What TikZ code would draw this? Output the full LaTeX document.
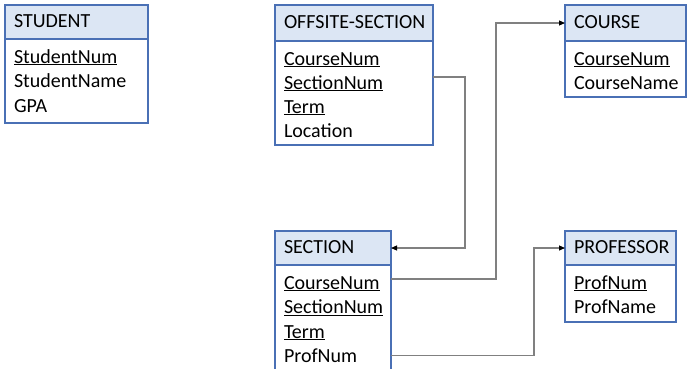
\documentclass[tikz,border=0pt]{standalone}
\usepackage{fontspec}
\setmainfont{Carlito}
\usetikzlibrary{arrows.meta,positioning}

\definecolor{boxblue}{HTML}{4A70B5}
\definecolor{hdrfill}{HTML}{DCE6F4}
\definecolor{linkgray}{HTML}{808080}

\begin{document}
\begin{tikzpicture}[
  x=1pt, y=1pt,
  every node/.style={font=\fontsize{20}{24}\selectfont, outer sep=0pt,
    text height=14pt, text depth=4pt},
  hdr/.style={draw=boxblue, fill=hdrfill, line width=1.2pt, anchor=north west,
    inner xsep=9pt, inner ysep=0pt, align=left, text width=#1-18pt},
  tbl/.style={draw=boxblue, line width=1.2pt, minimum width=#1, inner sep=0pt},
  attr/.style={anchor=west, inner xsep=9pt, inner ysep=0pt},
  link/.style={draw=linkgray, line width=1.1pt,
    -{Triangle[length=6pt,width=5pt,color=black]}},
]

\def\RH{24.5pt}  % row spacing inside a table
\def\RT{19pt}    % first row below the header

\useasboundingbox (0,0) rectangle (687,-368);

% STUDENT
\node[hdr=143pt, minimum height=34pt] (stu) at (5,-5) {STUDENT};
\node[tbl=143pt, minimum height=84pt, below=0pt of stu] (stu-b) {};
\foreach \t [count=\i] in {\underline{StudentNum}, StudentName, GPA}
  \node[attr] (stu-\i) at ([yshift=-\RT-(\i-1)*\RH]stu-b.north west) {\t};

% OFFSITE-SECTION
\node[hdr=158pt, minimum height=36pt] (off) at (275,-5) {\mbox{OFFSITE-SECTION}};
\node[tbl=158pt, minimum height=104pt, below=0pt of off] (off-b) {};
\foreach \t [count=\i] in {\underline{CourseNum}, \underline{SectionNum},
    \underline{Term}, Location}
  \node[attr] (off-\i) at ([yshift=-\RT-(\i-1)*24pt]off-b.north west) {\t};

% COURSE
\node[hdr=121pt, minimum height=36pt] (crs) at (565,-5) {COURSE};
\node[tbl=121pt, minimum height=56pt, below=0pt of crs] (crs-b) {};
\foreach \t [count=\i] in {\underline{CourseNum}, CourseName}
  \node[attr] (crs-\i) at ([yshift=-\RT-(\i-1)*\RH]crs-b.north west) {\t};

% SECTION
\node[hdr=116pt, minimum height=34pt] (sec) at (275,-231) {SECTION};
\node[tbl=116pt, minimum height=112pt, below=0pt of sec] (sec-b) {};
\foreach \t [count=\i] in {\underline{CourseNum}, \underline{SectionNum},
    \underline{Term}, ProfNum}
  \node[attr] (sec-\i) at ([yshift=-\RT-(\i-1)*\RH]sec-b.north west) {\t};

% PROFESSOR
\node[hdr=111pt, minimum height=34pt] (prof) at (565,-231) {PROFESSOR};
\node[tbl=111pt, minimum height=57pt, below=0pt of prof] (prof-b) {};
\foreach \t [count=\i] in {\underline{ProfNum}, ProfName}
  \node[attr] (prof-\i) at ([yshift=-\RT-(\i-1)*\RH]prof-b.north west) {\t};

% foreign keys
\draw[link] ([yshift=7pt]off-b.east |- off-2) -- ++(32,0) |- (sec.east);
\draw[link] ([yshift=5pt]sec-b.east |- sec-1) -- ++(105,0) |- (crs.west);
\draw[link] ([yshift=2pt]sec-b.east |- sec-4) -- ++(143,0) |- (prof.west);

\end{tikzpicture}
\end{document}
